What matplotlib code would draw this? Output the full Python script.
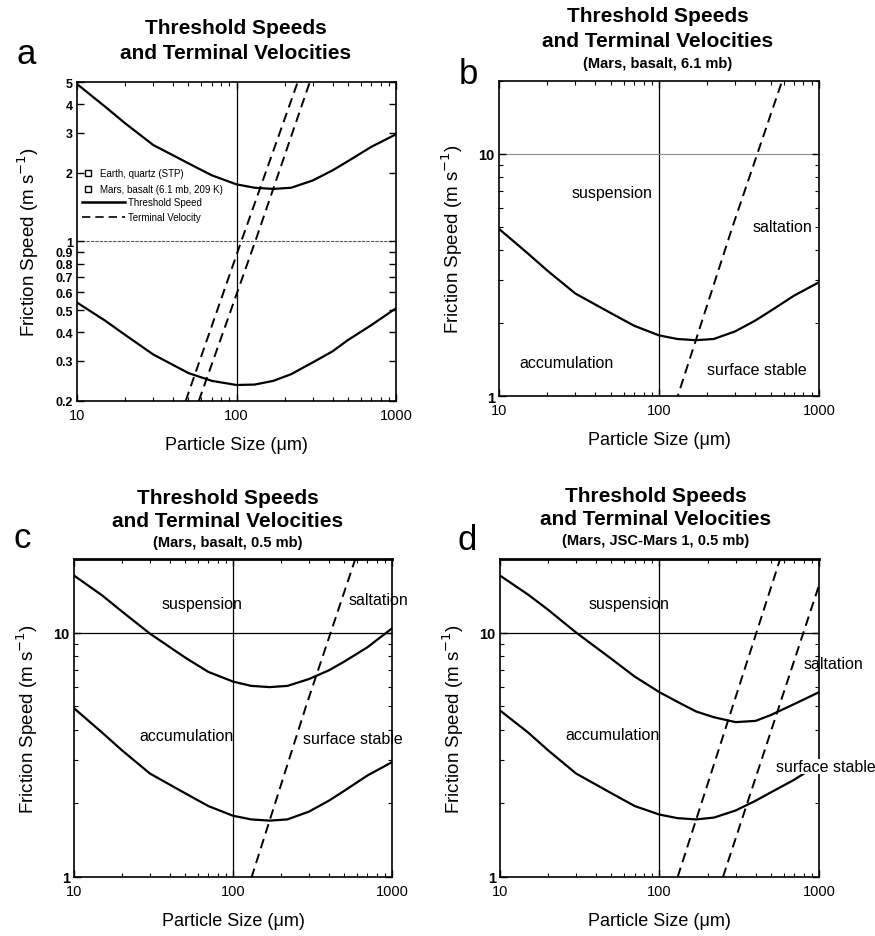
#!/usr/bin/env python3
"""Threshold speeds and terminal velocities, four panels (a-d)."""

import matplotlib
matplotlib.use('Agg')
import matplotlib.pyplot as plt
from matplotlib.ticker import FixedLocator, NullFormatter, LogLocator

plt.rcParams.update({
    'font.family': ['Liberation Sans', 'DejaVu Sans'],
    'xtick.direction': 'in',
    'ytick.direction': 'in',
    'xtick.top': True,
    'ytick.right': True,
    'axes.linewidth': 1.2,
})

# ---- data ----
size_um = [10, 15, 20, 30, 50, 70, 100, 130, 170, 220, 300, 400, 500, 700, 1000]

# threshold friction speeds (m/s)
thr_earth = [0.54, 0.45, 0.39, 0.32, 0.265, 0.245, 0.235, 0.236, 0.245, 0.262,
             0.295, 0.33, 0.37, 0.43, 0.51]
thr_mars61 = [4.9, 3.9, 3.3, 2.65, 2.2, 1.95, 1.78, 1.72, 1.70, 1.72,
              1.85, 2.05, 2.25, 2.6, 2.95]
thr_mars05 = [17.1, 14.2, 12.2, 9.9, 7.9, 6.9, 6.3, 6.05, 5.98, 6.05,
              6.45, 7.0, 7.6, 8.7, 10.4]
thr_jsc05 = [17.1, 14.3, 12.4, 10.0, 7.8, 6.6, 5.7, 5.2, 4.75, 4.5,
             4.3, 4.35, 4.6, 5.1, 5.7]
thr_jsc_low = [4.8, 3.9, 3.3, 2.65, 2.2, 1.95, 1.8, 1.74, 1.72, 1.75,
               1.87, 2.05, 2.22, 2.5, 2.9]

# terminal velocities (size um, speed m/s)
tv_earth_size = [48, 107, 242]
tv_earth_speed = [0.2, 1, 5]
tv_mars61_size = [58, 131, 288, 588]
tv_mars61_speed = [0.2, 1, 5, 20]
tv_jsc_a_size = [130, 571]
tv_jsc_a_speed = [1, 20]
tv_jsc_b_size = [250, 1000]
tv_jsc_b_speed = [1, 15.6]

region_labels = ['suspension', 'saltation', 'accumulation', 'surface stable']

DASH = (0, (5, 3))
REG_FS = 11.5

fig = plt.figure(figsize=(8.75, 9.37), dpi=100)

ax_a = fig.add_axes([0.088, 0.571, 0.3646, 0.3404])
ax_b = fig.add_axes([0.5703, 0.5763, 0.3657, 0.3362])
ax_c = fig.add_axes([0.0846, 0.0630, 0.3634, 0.3394])
ax_d = fig.add_axes([0.5714, 0.0630, 0.3646, 0.3394])


def style_axes(ax, ylim, yticks, ylab_fs=10.5):
    ax.set_xscale('log')
    ax.set_yscale('log')
    ax.set_xlim(10, 1000)
    ax.set_ylim(*ylim)
    ax.xaxis.set_major_locator(FixedLocator([10, 100, 1000]))
    ax.xaxis.set_minor_locator(LogLocator(base=10, subs=range(2, 10)))
    ax.xaxis.set_major_formatter(plt.FixedFormatter(['10', '100', '1000']))
    ax.xaxis.set_minor_formatter(NullFormatter())
    ax.yaxis.set_major_locator(FixedLocator(yticks))
    ax.yaxis.set_major_formatter(plt.FixedFormatter([('%g' % t) for t in yticks]))
    ax.yaxis.set_minor_formatter(NullFormatter())
    ax.tick_params(which='major', length=5, width=1)
    ax.tick_params(axis='x', which='major', labelsize=10.5, pad=5)
    ax.tick_params(axis='y', which='major', labelsize=ylab_fs, pad=3)
    ax.tick_params(which='minor', length=3, width=0.8)
    for lab in ax.get_yticklabels():
        lab.set_fontweight('bold')
    ax.set_xlabel('Particle Size (\u03bcm)', fontsize=13, labelpad=10)
    ax.set_ylabel('Friction Speed (m s$^{\\mathsf{-1}}$)', fontsize=13.5, labelpad=10)
    ax.axvline(100, color='black', lw=0.9, zorder=1)


# ---- panel a ----
style_axes(ax_a, (0.2, 5), [0.2, 0.3, 0.4, 0.5, 0.6, 0.7, 0.8, 0.9, 1, 2, 3, 4, 5],
           ylab_fs=9)
ax_a.yaxis.set_minor_locator(FixedLocator([]))
ax_a.axhline(1, color='0.35', lw=0.8, ls=(0, (3, 1)), zorder=1)
ax_a.plot(size_um, thr_mars61, color='black', lw=1.6)
ax_a.plot(size_um, thr_earth, color='black', lw=1.6)
ax_a.plot(tv_earth_size, tv_earth_speed, color='black', lw=1.4, ls=DASH)
ax_a.plot(tv_mars61_size, tv_mars61_speed, color='black', lw=1.4, ls=DASH)

# hand-made legend (no frame)
tr = ax_a.transAxes
ax_a.plot([0.034], [0.715], 's', mfc='white', mec='black', ms=5, mew=1, transform=tr)
ax_a.plot([0.034], [0.664], 's', mfc='white', mec='black', ms=5, mew=1, transform=tr)
ax_a.text(0.072, 0.715, 'Earth, quartz (STP)', fontsize=7, va='center', transform=tr)
ax_a.text(0.072, 0.664, 'Mars, basalt (6.1 mb, 209 K)', fontsize=7, va='center', transform=tr)
ax_a.plot([0.016, 0.15], [0.624, 0.624], color='black', lw=1.8, transform=tr)
ax_a.plot([0.016, 0.15], [0.577, 0.577], color='black', lw=1.2, ls=DASH, transform=tr)
ax_a.text(0.16, 0.624, 'Threshold Speed', fontsize=7, va='center', transform=tr)
ax_a.text(0.16, 0.577, 'Terminal Velocity', fontsize=7, va='center', transform=tr)

# ---- panel b ----
style_axes(ax_b, (1, 20), [1, 10])
ax_b.axhline(10, color='0.55', lw=0.8, zorder=1)
ax_b.plot(size_um, thr_mars61, color='black', lw=1.6)
ax_b.plot(tv_mars61_size, tv_mars61_speed, color='black', lw=1.4, ls=DASH)
ax_b.text(51, 6.9, region_labels[0], fontsize=REG_FS, ha='center', va='center')
ax_b.text(590, 5.0, region_labels[1], fontsize=REG_FS, ha='center', va='center')
ax_b.text(26.5, 1.38, region_labels[2], fontsize=REG_FS, ha='center', va='center')
ax_b.text(410, 1.29, region_labels[3], fontsize=REG_FS, ha='center', va='center')

# ---- panel c ----
style_axes(ax_c, (1, 20), [1, 10])
ax_c.axhline(10, color='black', lw=0.9, zorder=1)
ax_c.plot(size_um, thr_mars05, color='black', lw=1.6)
ax_c.plot(size_um, thr_mars61, color='black', lw=1.6)
ax_c.plot(tv_mars61_size, tv_mars61_speed, color='black', lw=1.4, ls=DASH)
ax_c.text(64, 13.2, region_labels[0], fontsize=REG_FS, ha='center', va='center')
ax_c.text(820, 13.7, region_labels[1], fontsize=REG_FS, ha='center', va='center')
ax_c.text(51, 3.8, region_labels[2], fontsize=REG_FS, ha='center', va='center')
ax_c.text(566, 3.67, region_labels[3], fontsize=REG_FS, ha='center', va='center')

# ---- panel d ----
style_axes(ax_d, (1, 20), [1, 10])
ax_d.axhline(10, color='black', lw=0.9, zorder=1)
ax_d.plot(size_um, thr_jsc05, color='black', lw=1.6)
ax_d.plot(size_um, thr_jsc_low, color='black', lw=1.6)
ax_d.plot(tv_jsc_a_size, tv_jsc_a_speed, color='black', lw=1.4, ls=DASH)
ax_d.plot(tv_jsc_b_size, tv_jsc_b_speed, color='black', lw=1.4, ls=DASH)
ax_d.text(64.5, 13.2, region_labels[0], fontsize=REG_FS, ha='center', va='center')
ax_d.text(1225, 7.5, region_labels[1], fontsize=REG_FS, ha='center', va='center')
ax_d.text(51, 3.82, region_labels[2], fontsize=REG_FS, ha='center', va='center')
ax_d.text(1100, 2.82, region_labels[3], fontsize=REG_FS, ha='center', va='center',
          bbox=dict(boxstyle='square,pad=0', facecolor='white', edgecolor='none'))

for ax in (ax_c, ax_d):
    ax.spines['top'].set_linewidth(2.0)

# ---- titles and panel letters (figure pixel positions) ----
W, H = 875.0, 937.0


def ftext(x, y, s, **kw):
    fig.text(x / W, 1 - y / H, s, ha='center', va='center', **kw)


title = 'Threshold Speeds\nand Terminal Velocities'
ftext(236, 41, title, fontsize=15, fontweight='bold', linespacing=1.35)
ftext(658, 29, title, fontsize=15, fontweight='bold', linespacing=1.35)
ftext(658, 64, '(Mars, basalt, 6.1 mb)', fontsize=10.5, fontweight='bold')
ftext(228, 510, title, fontsize=15, fontweight='bold', linespacing=1.3)
ftext(228, 543, '(Mars, basalt, 0.5 mb)', fontsize=10.5, fontweight='bold')
ftext(656, 508, title, fontsize=15, fontweight='bold', linespacing=1.3)
ftext(656, 541, '(Mars, JSC-Mars 1, 0.5 mb)', fontsize=10.5, fontweight='bold')

ftext(26, 54, 'a', fontsize=25)
ftext(468, 74, 'b', fontsize=25)
ftext(22, 538, 'c', fontsize=25)
ftext(467, 541, 'd', fontsize=25)

fig.savefig('out.png', dpi=100)
plt.close(fig)
